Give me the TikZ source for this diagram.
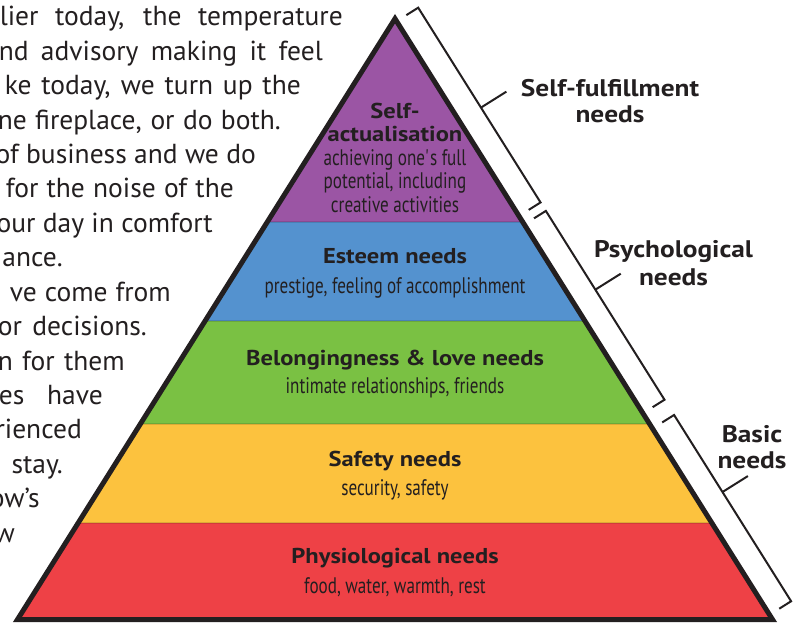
\documentclass[tikz,border=0pt]{standalone}
\usepackage{fontspec}
\setmainfont{PT Sans}
\newfontfamily\headfont[FakeStretch=1.14]{PT Sans}
\newfontfamily\narrowfont[FakeStretch=0.76]{PT Sans}

\definecolor{inkgray}{HTML}{231F20}
\definecolor{selfpurple}{HTML}{9B55A4}
\definecolor{esteemblue}{HTML}{5492CF}
\definecolor{lovegreen}{HTML}{7AC143}
\definecolor{safeyellow}{HTML}{FCC23E}
\definecolor{physred}{HTML}{EE4146}

\begin{document}
\begin{tikzpicture}[x=1pt, y=-1pt,
    title/.style={font=\headfont\bfseries\fontsize{21.5}{24}\selectfont, text=inkgray, inner sep=0pt, anchor=base},
    sub/.style={font=\narrowfont\fontsize{22.5}{25}\selectfont, text=inkgray, inner sep=0pt, anchor=base},
    side/.style={font=\headfont\bfseries\fontsize{24}{27}\selectfont, text=inkgray, inner sep=0pt, anchor=base},
    prose/.style={font=\fontsize{27.5}{34}\selectfont, text=inkgray, inner sep=0pt, anchor=base east},
    brace/.style={draw=inkgray, line width=2pt, line join=miter}]
	\useasboundingbox (0,0) rectangle (796,623);
	\clip (0,0) rectangle (796,623);

	\node[prose] (l1) at (343,26) {\makebox[343pt][s]{lier today, the temperature}};
	\node[prose] (l2) at (323,60.4) {\makebox[324pt][s]{nd advisory making it feel}};
	\node[prose] (l3) at (301,94.8) {\makebox[296pt][s]{ke today, we turn up the}};
	\node[prose] (l4) at (281,129.2) {\makebox[283pt][s]{ne fireplace, or do both.}};
	\node[prose] (l5) at (256,163.6) {of business and we do};
	\node[prose] (l6) at (234,198) {\makebox[228pt][s]{for the noise of the}};
	\node[prose] (l7) at (213,232.4) {our day in comfort};
	\node[prose] (l8) at (63,266.8) {ance.};
	\node[prose] (l9) at (171,301.2) {\makebox[161pt][s]{ve come from}};
	\node[prose] (l10) at (147,335.6) {\makebox[149pt][s]{or decisions.}};
	\node[prose] (l11) at (125,370) {\makebox[127pt][s]{n for them}};
	\node[prose] (l12) at (103,404.4) {\makebox[104pt][s]{es have}};
	\node[prose] (l13) at (82,438.8) {rienced};
	\node[prose] (l14) at (63,473.2) {stay.};
	\node[prose] (l15) at (40,507.6) {ow’s};
	\node[prose] (l16) at (15,542) {w};

	\coordinate (apex) at (395,18.7);
	\coordinate (bl) at (17.5,619.5);
	\coordinate (br) at (772.5,619.5);
	\begin{scope}
		\clip (bl) -- (apex) -- (br) -- cycle;
		\fill[selfpurple] (0,0) rectangle (796,222);
		\fill[esteemblue] (0,222) rectangle (796,321);
		\fill[lovegreen] (0,321) rectangle (796,424);
		\fill[safeyellow] (0,424) rectangle (796,523);
		\fill[physred] (0,523) rectangle (796,623);
		\foreach \yb in {222,321,424,523}
			\draw[black, opacity=0.12, line width=2pt] (0,\yb) -- (796,\yb);
	\end{scope}
	\draw[inkgray, line width=5pt, line join=miter] (bl) -- (apex) -- (br) -- cycle;

	\node[title] (self1) at (395,119) {Self-};
	\node[title] (self2) at (395,141.7) {actualisation};
	\node[sub] (self3) at (395,166) {achieving one\textquotesingle s full};
	\node[sub] (self4) at (395,189) {potential, including};
	\node[sub] (self5) at (395,212.7) {creative activities};
	\node[title] (esteem) at (395,263) {Esteem needs};
	\node[sub] (esteemsub) at (395,293) {prestige, feeling of accomplishment};
	\node[title] (love) at (395,365) {Belongingness \& love needs};
	\node[sub] (lovesub) at (395,393) {intimate relationships, friends};
	\node[title] (safety) at (395,466.7) {Safety needs};
	\node[sub] (safetysub) at (395,495) {security, safety};
	\node[title] (phys) at (395,563) {Physiological needs};
	\node[sub] (physsub) at (395,593) {food, water, warmth, rest};

	\begin{scope}[shift={(395,14)}, rotate=-57.86, yscale=-1]
		\draw[brace] (7,9) -- (7,23) -- (237,23) -- (237,9);
		\draw[brace] (125,23) -- (125,53);
		\draw[brace] (247,9) -- (247,23) -- (470,23) -- (470,9);
		\draw[brace] (340,23) -- (340,53);
		\draw[brace] (488,9) -- (488,23) -- (708,23) -- (708,9);
		\draw[brace] (579,23) -- (579,53);
	\end{scope}

	\node[side] (fulfil) at (610,97) {Self-fulfillment};
	\node[side] (fulfilneeds) at (610,123) {needs};
	\node[side] (psych) at (673.5,258) {Psychological};
	\node[side] (psychneeds) at (673.5,285) {needs};
	\node[side] (basic) at (752,442) {Basic};
	\node[side] (basicneeds) at (752,468) {needs};
\end{tikzpicture}
\end{document}
